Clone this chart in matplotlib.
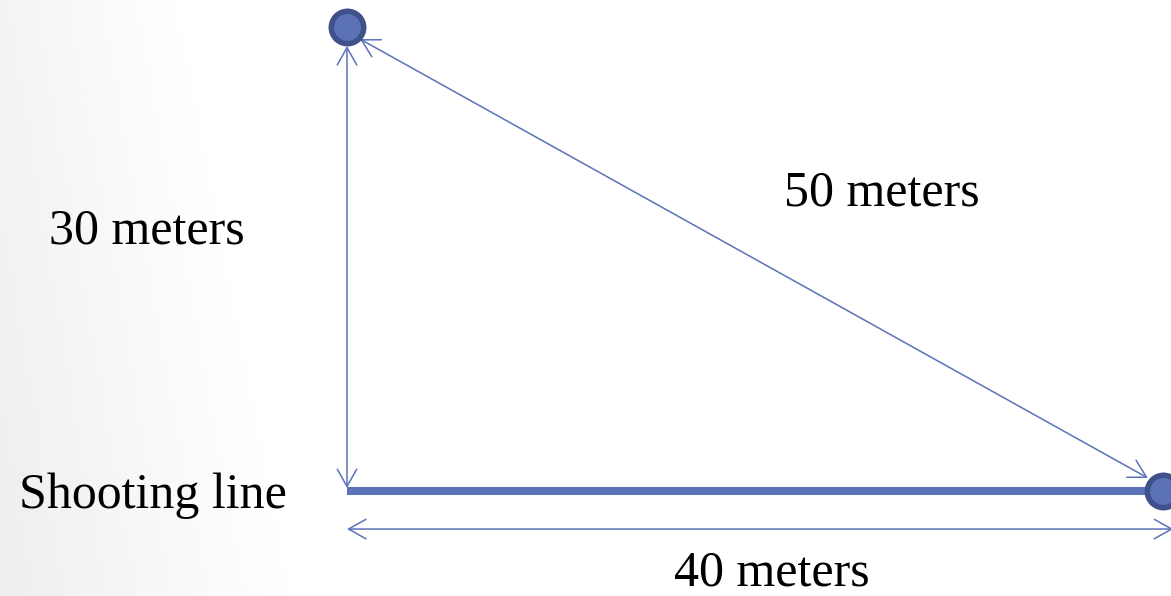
import numpy as np
import matplotlib
matplotlib.use("Agg")
import matplotlib.pyplot as plt

# triangle corners in meters (shooting line along x)
corner_names = ["shooter", "top", "target"]
corner_x = [0, 0, 40]
corner_y = [0, 30, 0]
side_labels = ["30 meters", "40 meters", "50 meters"]
left_label = "Shooting line"

blue = "#5b72b8"
dark = "#3e5188"

fig = plt.figure(figsize=(11.71, 5.96), dpi=100)

# background: soft grey shading on the left, a bit stronger towards the bottom
bg = fig.add_axes([0, 0, 1, 1])
gx = np.linspace(0, 1, 400)
gy = np.linspace(0, 1, 200)[:, None]   # 0 = bottom
reach = 0.17 + 0.1 * (1 - gy)
shade = np.clip(1 - gx[None, :] / reach, 0, 1) ** 1.2
grad = 1 - (0.045 + 0.025 * (1 - gy)) * shade
bg.imshow(grad, cmap="gray", vmin=0, vmax=1, aspect="auto", origin="lower",
          extent=[0, 1, 0, 1])
bg.set_axis_off()

ax = fig.add_axes([0, 0, 1, 1])
ax.patch.set_alpha(0)
# pixel 347 -> x=0, 1163 -> x=40 ; pixel 491 -> y=0, 27 -> y=30
sx = (1163 - 347) / 40.0
sy = (491 - 27) / 30.0
ax.set_xlim(-347 / sx, (1171 - 347) / sx)
ax.set_ylim((491 - 596) / sy, 491 / sy)
ax.set_axis_off()

x0, xt, xr = corner_x
y0, yt, yr = corner_y

both = dict(arrowstyle="<->,head_length=1.25,head_width=0.7", color=blue, lw=1.1,
            shrinkA=0, shrinkB=0, mutation_scale=10)

# vertical 30 m
ax.annotate("", xy=(xt, yt - 1.23), xytext=(x0, y0 + 0.19), arrowprops=both)
# diagonal 50 m
ax.annotate("", xy=(xt + 0.64, yt - 0.78), xytext=(xr - 0.74, yr + 0.84), arrowprops=both)
# horizontal 40 m measurement below (runs past the right edge)
ax.annotate("", xy=(xr + 0.5, y0 - 2.46), xytext=(x0, y0 - 2.46), arrowprops=both,
            annotation_clip=False)

# shooting line
ax.plot([x0, xr], [y0, yr], color=blue, lw=5.8, solid_capstyle="butt", zorder=3)

# markers at top and target
ax.plot([xt, xr], [yt, yr], "o", ms=23.3, mfc=blue, mec=dark, mew=4, zorder=5)

font = dict(family=["Liberation Serif", "DejaVu Serif"], fontsize=36, color="black",
            ha="center", va="baseline")
ax.text(-9.80, 15.97, side_labels[0], **font)
ax.text(26.23, 18.49, side_labels[2], **font)
ax.text(-9.49, -1.10, left_label, **font)
ax.text(20.83, -6.12, side_labels[1], **font)

fig.savefig("out.png", dpi=100)
